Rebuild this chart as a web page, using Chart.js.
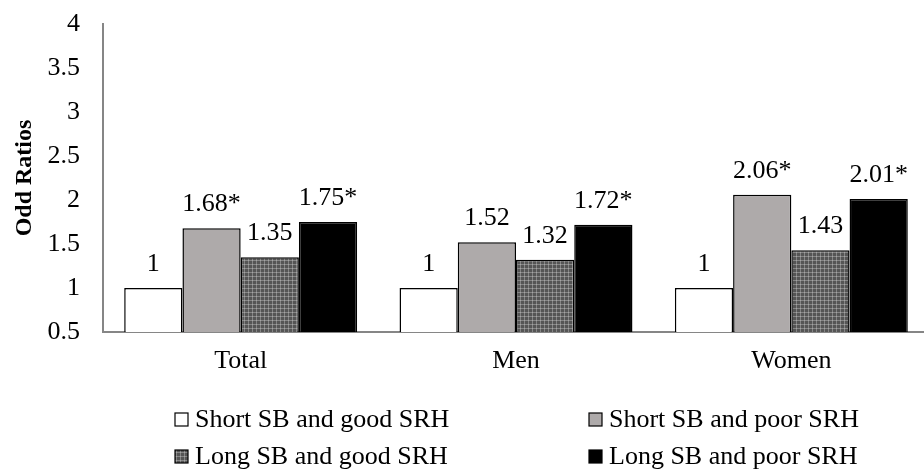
<!DOCTYPE html>
<html>
<head>
<meta charset="utf-8">
<script src="https://cdn.jsdelivr.net/npm/chart.js@4.4.0/dist/chart.umd.min.js"></script>
<style>
  html, body { margin: 0; padding: 0; background: #fff; overflow: hidden; }
  #wrap { width: 930px; height: 474px; }
</style>
</head>
<body>
<div id="wrap"><canvas id="chart" width="930" height="474"></canvas></div>
<script>
let groups = ["Total", "Men", "Women"];
let seriesNames = ["Short SB and good SRH", "Short SB and poor SRH", "Long SB and good SRH", "Long SB and poor SRH"];
let shortGood = [1, 1, 1];
let shortPoor = [1.68, 1.52, 2.06];
let longGood = [1.35, 1.32, 1.43];
let longPoor = [1.75, 1.72, 2.01];
// star = significant
let shortGoodSig = [false, false, false];
let shortPoorSig = [true, false, true];
let longGoodSig = [false, false, false];
let longPoorSig = [true, true, true];
let yTicks = [0.5, 1, 1.5, 2, 2.5, 3, 3.5, 4];

const FONT = "'Liberation Serif', 'Times New Roman', serif";

// dotted grey fill like the excel pattern
function makePattern() {
  let c = document.createElement("canvas");
  c.width = 4;
  c.height = 4;
  let g = c.getContext("2d");
  g.fillStyle = "#555555";
  g.fillRect(0, 0, 4, 4);
  g.fillStyle = "#858585";
  g.fillRect(0, 0, 4, 1);
  g.fillRect(0, 0, 1, 4);
  g.fillStyle = "#a5a5a5";
  g.fillRect(0, 0, 1, 1);
  return g.createPattern(c, "repeat");
}

let pattern = makePattern();
let fills = ["#ffffff", "#aeaaaa", pattern, "#000000"];
let values = [shortGood, shortPoor, longGood, longPoor];
let sigs = [shortGoodSig, shortPoorSig, longGoodSig, longPoorSig];

let datasets = seriesNames.map((name, i) => ({
  label: name,
  data: values[i],
  sig: sigs[i],
  backgroundColor: fills[i],
  borderColor: "#000000",
  borderWidth: 1.5,
  borderSkipped: "bottom"
}));

// value labels above bars
const barLabels = {
  id: "barLabels",
  afterDatasetsDraw(chart) {
    let ctx = chart.ctx;
    ctx.save();
    ctx.font = "26px " + FONT;
    ctx.fillStyle = "#000";
    ctx.textAlign = "center";
    ctx.textBaseline = "alphabetic";
    chart.data.datasets.forEach((ds, i) => {
      chart.getDatasetMeta(i).data.forEach((bar, j) => {
        let txt = String(ds.data[j]) + (ds.sig[j] ? "*" : "");
        ctx.fillText(txt, bar.x, bar.y - 17);
      });
    });
    ctx.restore();
  }
};

// two column legend under the axis
const gridLegend = {
  id: "gridLegend",
  afterDraw(chart) {
    let ctx = chart.ctx;
    let cols = [175, 589];
    let rows = [419, 456];
    ctx.save();
    ctx.font = "26px " + FONT;
    ctx.textBaseline = "middle";
    ctx.textAlign = "left";
    chart.data.datasets.forEach((ds, i) => {
      let x = cols[i % 2];
      let y = rows[Math.floor(i / 2)];
      ctx.fillStyle = ds.backgroundColor;
      ctx.fillRect(x, y - 6, 13, 13);
      ctx.strokeStyle = "#000";
      ctx.lineWidth = 1.2;
      ctx.strokeRect(x, y - 6, 13, 13);
      ctx.fillStyle = "#000";
      ctx.fillText(ds.label, x + 20, y + 1);
    });
    ctx.restore();
  }
};

new Chart(document.getElementById("chart"), {
  type: "bar",
  data: { labels: groups, datasets: datasets },
  plugins: [barLabels, gridLegend],
  options: {
    responsive: false,
    animation: false,
    layout: { padding: { top: 24, right: 1, left: 0, bottom: 0 } },
    datasets: { bar: { barPercentage: 1, categoryPercentage: 0.846 } },
    plugins: {
      legend: { display: false },
      tooltip: { enabled: false }
    },
    scales: {
      x: {
        grid: { display: false, drawTicks: false },
        border: { display: true, color: "#868686", width: 2 },
        ticks: { color: "#000", font: { family: FONT, size: 26 }, padding: 14 },
        afterFit(scale) { scale.height = 142; }
      },
      y: {
        min: 0.5,
        max: 4,
        afterBuildTicks(scale) { scale.ticks = yTicks.map(v => ({ value: v })); },
        grid: { display: false, drawTicks: false },
        border: { display: true, color: "#868686", width: 2 },
        ticks: {
          color: "#000",
          font: { family: FONT, size: 26 },
          padding: 23,
          callback: v => String(v)
        },
        title: {
          display: true,
          text: "Odd Ratios",
          color: "#000",
          font: { family: FONT, size: 24, weight: "bold" },
          padding: { top: 10, bottom: 0 }
        },
        afterFit(scale) {
          scale.width = 103;
          // tick padding is only meant horizontally here
          scale.paddingTop = 0;
          scale.paddingBottom = 0;
        }
      }
    }
  }
});
</script>
</body>
</html>
